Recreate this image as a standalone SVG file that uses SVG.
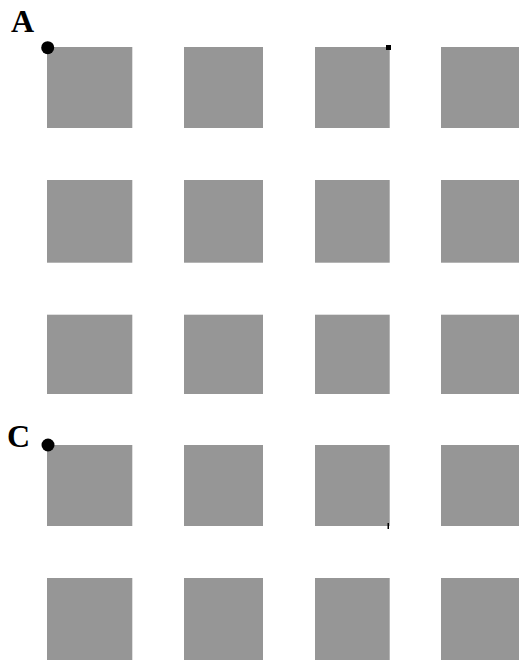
<svg xmlns="http://www.w3.org/2000/svg" width="519" height="660" viewBox="0 0 519 660">
<style>
.sq{fill:#969696}
.lbl{font-family:"Liberation Serif","Times New Roman",serif;font-weight:bold;font-size:32px;fill:#000}
.dot{fill:#000}
</style>
<rect width="519" height="660" fill="#fff"/>
<g id="grid">
<g id="r1">
<rect class="sq" x="47" y="47" width="85.3" height="81"/>
<rect class="sq" x="184" y="47" width="79" height="81"/>
<rect class="sq" x="315" y="47" width="74.7" height="81"/>
<rect class="sq" x="441" y="47" width="80" height="81"/>
</g>
<g id="r2">
<rect class="sq" x="47" y="180" width="85.3" height="82.7"/>
<rect class="sq" x="184" y="180" width="79" height="82.7"/>
<rect class="sq" x="315" y="180" width="74.7" height="82.7"/>
<rect class="sq" x="441" y="180" width="80" height="82.7"/>
</g>
<g id="r3">
<rect class="sq" x="47" y="314.7" width="85.3" height="79.3"/>
<rect class="sq" x="184" y="314.7" width="79" height="79.3"/>
<rect class="sq" x="315" y="314.7" width="74.7" height="79.3"/>
<rect class="sq" x="441" y="314.7" width="80" height="79.3"/>
</g>
<g id="r4">
<rect class="sq" x="47" y="445" width="85.3" height="81"/>
<rect class="sq" x="184" y="445" width="79" height="81"/>
<rect class="sq" x="315" y="445" width="74.7" height="81"/>
<rect class="sq" x="441" y="445" width="80" height="81"/>
</g>
<g id="r5">
<rect class="sq" x="47" y="578" width="85.3" height="84"/>
<rect class="sq" x="184" y="578" width="79" height="84"/>
<rect class="sq" x="315" y="578" width="74.7" height="84"/>
<rect class="sq" x="441" y="578" width="80" height="84"/>
</g>
</g>
<g id="markers">
<circle class="dot" cx="47.7" cy="47.7" r="6.5"/>
<circle class="dot" cx="48" cy="445" r="6.5"/>
<rect class="dot" x="386" y="45" width="5" height="5"/>
<rect class="dot" x="387.5" y="523" width="1.5" height="6"/>
</g>
<g id="labels">
<text class="lbl" x="11" y="32">A</text>
<text class="lbl" x="7" y="447">C</text>
</g>
</svg>
